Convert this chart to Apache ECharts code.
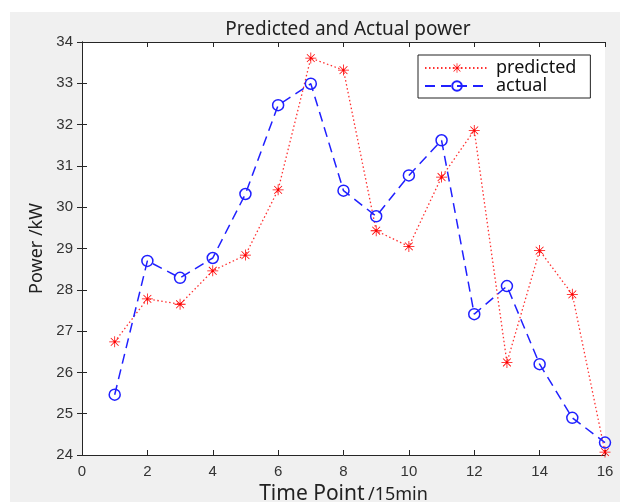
<!DOCTYPE html>
<html>
<head>
<meta charset="utf-8">
<script src="https://cdn.jsdelivr.net/npm/echarts@6/dist/echarts.min.js"></script>
<style>
  html, body { margin: 0; padding: 0; background: #fff; }
  #chart { width: 624px; height: 502px; }
</style>
</head>
<body>
<div id="chart"></div>
<script>
// data
const timePoints = [1, 2, 3, 4, 5, 6, 7, 8, 9, 10, 11, 12, 13, 14, 15, 16];
const predicted = [26.74, 27.78, 27.65, 28.46, 28.84, 30.42, 33.61, 33.32, 29.43, 29.05, 30.73, 31.86, 26.24, 28.95, 27.89, 24.07];
const actual = [25.46, 28.70, 28.29, 28.77, 30.32, 32.47, 32.99, 30.40, 29.78, 30.77, 31.62, 27.41, 28.09, 26.20, 24.90, 24.30];
const xTicks = { min: 0, max: 16, step: 2 };
const yTicks = { min: 24, max: 34, step: 1 };

// matlab style asterisk
const starPath = 'path://M9.3 0L10.7 0L10.7 20L9.3 20Z M0 9.3L20 9.3L20 10.7L0 10.7Z ' +
    'M2.4 3.4L3.4 2.4L17.6 16.6L16.6 17.6Z M16.6 2.4L17.6 3.4L3.4 17.6L2.4 16.6Z';

const pair = (xs, ys) => xs.map((x, i) => [x, ys[i]]);

const chart = echarts.init(document.getElementById('chart'));
const font = 'Noto Sans, sans-serif';
const tickFont = 'Liberation Sans, Arial, sans-serif';
const axisColor = '#262626';

const baseX = {
    type: 'value', min: xTicks.min, max: xTicks.max, interval: xTicks.step,
    axisLine: { show: true, lineStyle: { color: axisColor, width: 1 } },
    axisTick: { show: true, inside: true, length: 5, lineStyle: { color: axisColor } },
    splitLine: { show: false }
};
const baseY = {
    type: 'value', min: yTicks.min, max: yTicks.max, interval: yTicks.step,
    axisLine: { show: true, lineStyle: { color: axisColor, width: 1 } },
    axisTick: { show: true, inside: true, length: 5, lineStyle: { color: axisColor } },
    splitLine: { show: false }
};

const option = {
    backgroundColor: '#fff',
    animation: false,
    graphic: [{
        type: 'rect', z: -10, silent: true,
        shape: { x: 10, y: 12, width: 610, height: 490 },
        style: { fill: '#f0f0f0' }
    }],
    title: {
        text: 'Predicted and Actual power',
        left: 343, top: 15, textAlign: 'center',
        textStyle: { fontFamily: font, fontSize: 19, fontWeight: 'normal', color: '#222' }
    },
    grid: {
        left: 82, right: 19, top: 42, bottom: 47, outerBoundsMode: 'none',
        show: true, backgroundColor: '#fff', borderWidth: 0
    },
    legend: {
        orient: 'vertical', left: 418, top: 55,
        padding: [4, 14, 3, 6], itemGap: 0, itemWidth: 64, itemHeight: 12,
        backgroundColor: '#fff', borderColor: '#222', borderWidth: 1, borderRadius: 0,
        textStyle: { fontFamily: font, fontSize: 18, color: '#111', padding: [0, 0, 0, 2] },
        data: ['predicted', 'actual']
    },
    xAxis: [
        Object.assign({}, baseX, {
            name: '{a|Time Point} {b|/15min}', nameLocation: 'middle', nameGap: 23,
            nameTextStyle: {
                rich: {
                    a: { fontFamily: font, fontSize: 21, color: '#222' },
                    b: { fontFamily: font, fontSize: 18, color: '#222' }
                }
            },
            axisLabel: { fontFamily: tickFont, fontSize: 15, color: '#333', margin: 9 }
        }),
        Object.assign({}, baseX, { position: 'top', axisLabel: { show: false } })
    ],
    yAxis: [
        Object.assign({}, baseY, {
            name: 'Power /kW', nameLocation: 'middle', nameGap: 32,
            nameTextStyle: { fontFamily: font, fontSize: 18, color: '#222' },
            axisLabel: { fontFamily: tickFont, fontSize: 15, color: '#333', margin: 9 }
        }),
        Object.assign({}, baseY, { position: 'right', axisLabel: { show: false } })
    ],
    series: [
        {
            name: 'predicted', type: 'line',
            data: pair(timePoints, predicted),
            symbol: starPath, symbolSize: 11,
            itemStyle: { color: '#ff0000' },
            lineStyle: { color: '#ff3030', width: 1.3, type: [1.5, 2.5] }
        },
        {
            name: 'actual', type: 'line',
            data: pair(timePoints, actual),
            symbol: 'circle', symbolSize: 11,
            itemStyle: { color: 'rgba(0,0,0,0)', borderColor: '#2020ff', borderWidth: 1.5 },
            lineStyle: { color: '#2020ff', width: 1.5, type: [10, 6] }
        }
    ]
};

chart.setOption(option);
</script>
</body>
</html>
